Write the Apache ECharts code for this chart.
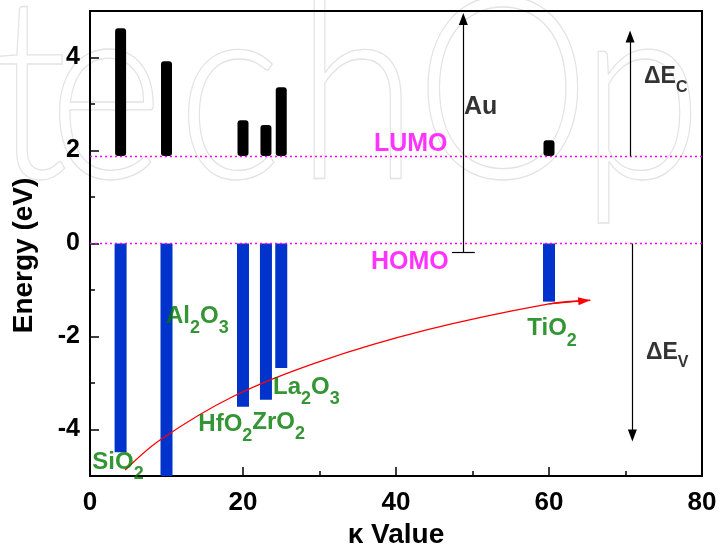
<!DOCTYPE html>
<html>
<head>
<meta charset="utf-8">
<script src="https://cdn.jsdelivr.net/npm/echarts@6/dist/echarts.min.js"></script>
<style>
  html, body { margin: 0; padding: 0; background: #ffffff; }
  #chart { width: 719px; height: 546px; }
</style>
</head>
<body>
<div id="chart"></div>
<script>
// Band edges of high-k oxides versus dielectric constant
const kappa = [4, 10, 20, 23, 25, 60];
const oxides = ['SiO2', 'Al2O3', 'HfO2', 'ZrO2', 'La2O3', 'TiO2'];
const conductionTop = [4.63, 3.92, 2.65, 2.55, 3.36, 2.22];
const valenceBottom = [-4.49, -5.0, -3.51, -3.36, -2.68, -1.25];
const lumoLevel = 1.88;
const homoLevel = 0;

// Red guide curve through the valence-band minima (ends in an arrow)
const trendKappa = [4.6, 9.2, 18.7, 30, 44, 60, 65.4];
const trendEnergy = [-4.87, -4.22, -3.29, -2.54, -1.86, -1.30, -1.22];

// Axis ticks
const xTickValues = [0, 20, 40, 60, 80];
const yTickValues = [-4, -2, 0, 2, 4];
const yMinorTickValues = [-3, -1, 1, 3];

// Annotation anchors (kappa, energy) for the oxide names
const oxideLabelKappa = [0.30, 9.93, 14.16, 21.22, 23.92, 57.16];
const oxideLabelEnergy = [-4.70, -1.57, -3.88, -3.85, -3.09, -1.83];

// Other annotations
const noteTexts = ['LUMO', 'HOMO', 'Au', 'ΔE|C', 'ΔE|V'];
const noteKappa = [37.12, 36.73, 48.89, 72.42, 72.68];
const noteEnergy = [2.13, -0.40, 2.93, 3.59, -2.33];

// Arrows: Au work function, conduction and valence band offsets
const auArrow = { kappa: 48.8, from: -0.18, to: 4.83 };
const auBracket = { from: 47.3, to: 50.3, energy: -0.18 };
const ecArrow = { kappa: 70.6, from: lumoLevel, to: 4.45 };
const evArrow = { kappa: 70.9, from: homoLevel, to: -4.13 };

// Publisher watermark, drawn letter by letter in outline
const markLetters = ['t', 'e', 'c', 'h', 'O', 'p'];
const markLetterX = [-8, 48, 177, 296, 415, 580];

const FONT = "'Liberation Sans', Arial, Helvetica, sans-serif";
const GREEN = '#007a00';
const MAGENTA = '#ff00ff';
const BLUE = '#0033cc';

function chemRich(name) {
  return name.replace(/(\D+)|(\d+)/g, function (m, a, d) {
    return a ? '{m|' + a + '}' : '{s|' + d + '}';
  });
}

function bandRenderer(width, color, radius) {
  return function (params, api) {
    const k = api.value(0);
    const top = api.coord([k, api.value(2)]);
    const bot = api.coord([k, api.value(1)]);
    return {
      type: 'rect',
      shape: { x: top[0] - width / 2, y: top[1], width: width, height: bot[1] - top[1], r: radius },
      style: { fill: color }
    };
  };
}

const chart = echarts.init(document.getElementById('chart'), null, { renderer: 'canvas' });

const option = {
  animation: false,
  backgroundColor: '#ffffff',
  graphic: markLetters.map(function (ch, i) {
    return {
      type: 'text',
      silent: true,
      z: -10,
      x: markLetterX[i],
      y: 96,
      scaleX: 0.87,
      style: {
        text: ch,
        font: "300 255px Lato, 'Noto Sans', sans-serif",
        fill: 'rgba(0,0,0,0)',
        stroke: '#e3e3e3',
        lineWidth: 1.3,
        verticalAlign: 'middle'
      }
    };
  }),
  grid: {
    left: 90, right: 17, top: 11, bottom: 70,
    outerBoundsMode: 'none',
    show: true, borderColor: '#000', borderWidth: 2,
    backgroundColor: 'rgba(0,0,0,0)'
  },
  xAxis: {
    type: 'value', min: 0, max: 80, interval: 20,
    name: 'κ Value', nameLocation: 'middle', nameGap: 44,
    nameTextStyle: { fontFamily: FONT, fontWeight: 'bold', fontSize: 28, color: '#000' },
    axisLine: { show: true, onZero: false, lineStyle: { color: '#000', width: 2 } },
    axisTick: { show: true, inside: true, length: 9, lineStyle: { color: '#000', width: 1.5 } },
    minorTick: { show: true, splitNumber: 2, length: 5, lineStyle: { color: '#000', width: 1.5 } },
    axisLabel: {
      customValues: xTickValues,
      fontFamily: FONT, fontWeight: 'bold', fontSize: 26, color: '#000', margin: 14
    },
    splitLine: { show: false }
  },
  yAxis: [{
    type: 'value', min: -5, max: 5,
    name: 'Energy (eV)', nameLocation: 'middle', nameGap: 52,
    nameTextStyle: { fontFamily: FONT, fontWeight: 'bold', fontSize: 28, color: '#000', padding: [0, 24, 0, 0] },
    axisLine: { show: true, onZero: false, lineStyle: { color: '#000', width: 2 } },
    axisTick: { show: true, inside: true, length: 9, customValues: yTickValues, lineStyle: { color: '#000', width: 1.5 } },
    axisLabel: {
      customValues: yTickValues,
      fontFamily: FONT, fontWeight: 'bold', fontSize: 25, color: '#000', margin: 10
    },
    splitLine: { show: false }
  }, {
    type: 'value', min: -5, max: 5, position: 'left',
    axisLine: { show: false, onZero: false },
    axisTick: { show: true, inside: true, length: 5, customValues: yMinorTickValues, lineStyle: { color: '#000', width: 1.5 } },
    axisLabel: { show: false },
    splitLine: { show: false }
  }],
  series: [
    {
      name: 'levels', type: 'line', data: [], silent: true,
      markLine: {
        silent: true, symbol: ['none', 'none'], label: { show: false },
        lineStyle: { color: MAGENTA, type: [2, 3], width: 1.3 },
        data: [{ yAxis: lumoLevel }, { yAxis: homoLevel }]
      }
    },
    {
      name: 'conduction', type: 'custom', silent: true, z: 3,
      encode: { x: 0, y: [1, 2] },
      renderItem: bandRenderer(11, '#000000', 3),
      data: kappa.map(function (k, i) { return [k, lumoLevel, conductionTop[i]]; })
    },
    {
      name: 'valence', type: 'custom', silent: true, z: 3, clip: true,
      encode: { x: 0, y: [1, 2] },
      renderItem: bandRenderer(12, BLUE, 0),
      data: kappa.map(function (k, i) { return [k, valenceBottom[i], homoLevel]; })
    },
    {
      name: 'trend', type: 'line', smooth: 0.35, showSymbol: false, silent: true, z: 4,
      lineStyle: { color: '#ff0000', width: 1.3 },
      data: trendKappa.map(function (k, i) { return [k, trendEnergy[i]]; }),
      markLine: {
        silent: true, symbol: ['none', 'triangle'], symbolSize: [8, 12], label: { show: false },
        lineStyle: { color: '#ff0000', type: 'solid', width: 1.3 },
        data: [[{ coord: [60, -1.30] }, { coord: [64.6, -1.23] }]]
      }
    },
    {
      name: 'arrows', type: 'line', data: [], silent: true, z: 4,
      markLine: {
        silent: true, symbol: ['none', 'triangle'], symbolSize: [9, 12], label: { show: false },
        lineStyle: { color: '#000', type: 'solid', width: 1.2 },
        data: [
          [{ coord: [auArrow.kappa, auArrow.from] }, { coord: [auArrow.kappa, auArrow.to] }],
          [{ coord: [auBracket.from, auBracket.energy], symbol: 'none' }, { coord: [auBracket.to, auBracket.energy], symbol: 'none' }],
          [{ coord: [ecArrow.kappa, ecArrow.from] }, { coord: [ecArrow.kappa, ecArrow.to] }],
          [{ coord: [evArrow.kappa, evArrow.from] }, { coord: [evArrow.kappa, evArrow.to] }]
        ]
      }
    },
    {
      name: 'oxide names', type: 'scatter', symbolSize: 0, silent: true, z: 5,
      data: oxideLabelKappa.map(function (k, i) { return [k, oxideLabelEnergy[i]]; }),
      label: {
        show: true, position: 'right', distance: 0,
        formatter: function (p) { return chemRich(oxides[p.dataIndex]); },
        rich: {
          m: { fontFamily: FONT, fontWeight: 'bold', fontSize: 24, color: GREEN, lineHeight: 24, verticalAlign: 'top' },
          s: { fontFamily: FONT, fontWeight: 'bold', fontSize: 18, color: GREEN, lineHeight: 18, padding: [15, 0, 0, 0], verticalAlign: 'top' }
        }
      }
    },
    {
      name: 'notes', type: 'scatter', symbolSize: 0, silent: true, z: 5,
      data: noteKappa.map(function (k, i) { return [k, noteEnergy[i]]; }),
      label: {
        show: true, position: 'right', distance: 0,
        formatter: function (p) {
          const t = noteTexts[p.dataIndex];
          if (t.indexOf('|') >= 0) {
            const parts = t.split('|');
            return '{d|' + parts[0] + '}{c|' + parts[1] + '}';
          }
          return p.dataIndex < 2 ? '{lvl|' + t + '}' : '{au|' + t + '}';
        },
        rich: {
          lvl: { fontFamily: FONT, fontWeight: 'bold', fontSize: 25, color: MAGENTA },
          au: { fontFamily: FONT, fontWeight: 'bold', fontSize: 25, color: '#000' },
          d: { fontFamily: FONT, fontWeight: 'bold', fontSize: 23, color: '#000', lineHeight: 22, verticalAlign: 'top' },
          c: { fontFamily: FONT, fontWeight: 'bold', fontSize: 16, color: '#000', lineHeight: 15, padding: [14, 0, 0, 0], verticalAlign: 'top' }
        }
      }
    }
  ]
};

chart.setOption(option);
</script>
</body>
</html>
